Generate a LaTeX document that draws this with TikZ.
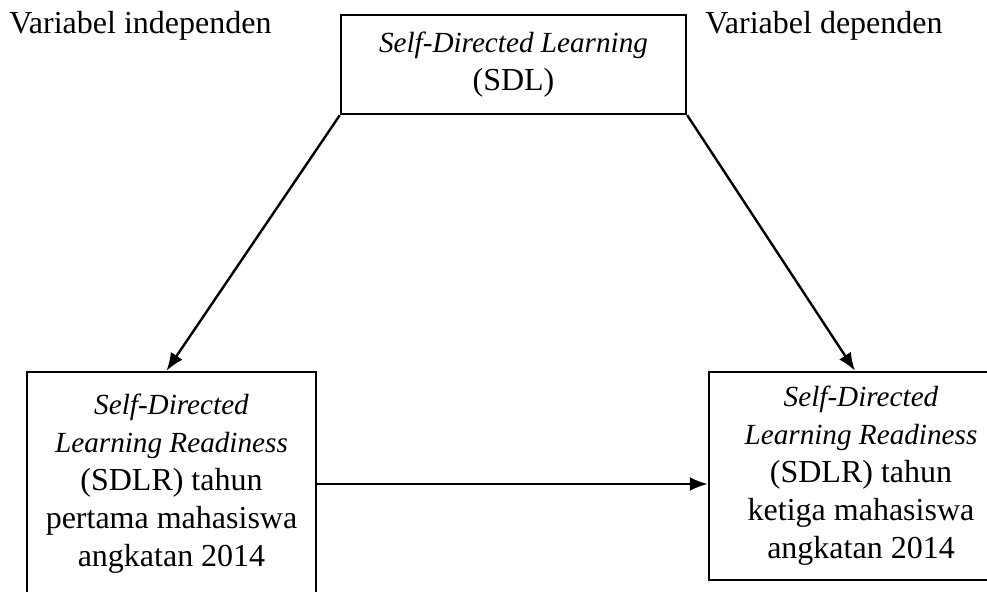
\documentclass[tikz,border=0pt]{standalone}
\usepackage{fontspec}
\setmainfont{Liberation Serif}
\usetikzlibrary{positioning,arrows.meta}

\newcommand{\eng}[1]{{\fontsize{14.6}{19}\selectfont\itshape #1}}

\tikzset{
  varbox/.style={draw, line width=1.2pt, inner sep=0pt, align=center,
    font=\fontsize{16}{19}\selectfont},
  varlabel/.style={anchor=base west, inner sep=0pt,
    font=\fontsize{16}{19}\selectfont},
}

\begin{document}
\begin{tikzpicture}[>={Latex[length=9pt,width=7pt]}, x=0.5pt, y=-0.5pt]
  \useasboundingbox (0,0) rectangle (987,591);
  \clip (0,0) rectangle (987,591);
  \node[varlabel] (indep) at (9,33) {Variabel independen};
  \node[varlabel] (dep) at (705,33) {Variabel dependen};
  \node[varbox, minimum width=172.5pt, minimum height=49.5pt] (sdl) at (513.5,64.5)
    {\eng{Self-Directed Learning}\\(SDL)};
  \node[varbox, minimum width=144.5pt, minimum height=112pt] (first) at (171.5,484)
    {\eng{Self-Directed}\\\eng{Learning Readiness}\\(SDLR) tahun\\pertama mahasiswa\\angkatan 2014};
  \node[varbox, minimum width=152pt, minimum height=104pt] (third) at (861,476)
    {\eng{Self-Directed}\\\eng{Learning Readiness}\\(SDLR) tahun\\ketiga mahasiswa\\angkatan 2014};
  \draw[line width=1.2pt, ->] (sdl.south west) -- ([xshift=-2.5pt]first.north);
  \draw[line width=1.2pt, ->] (sdl.south east) -- ([xshift=-3pt]third.north);
  \draw[line width=1.2pt, ->] (first.east) -- (first.east -| third.west);
\end{tikzpicture}
\end{document}
